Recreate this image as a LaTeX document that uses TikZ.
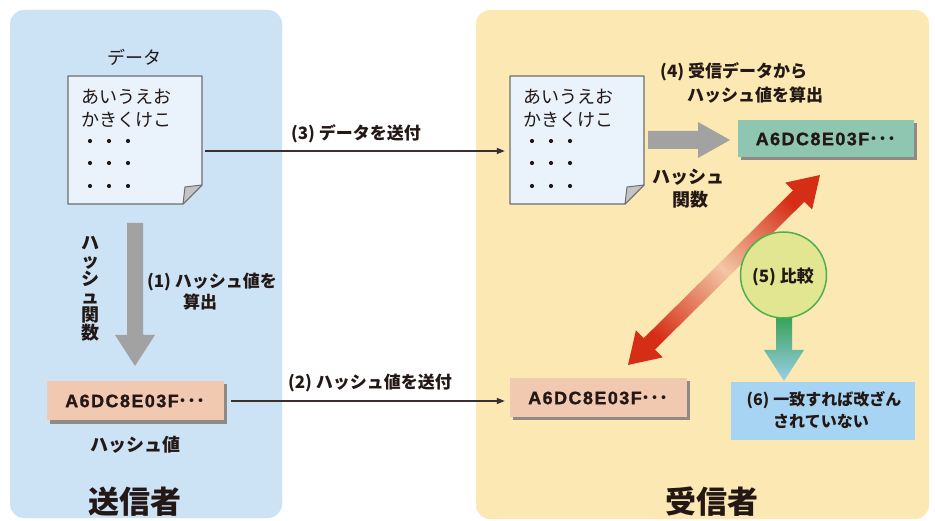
\documentclass[tikz,border=0pt]{standalone}
\usepackage{fontspec}
\setmainfont{Noto Sans CJK JP}
\newfontfamily\hexf{Liberation Sans}[LetterSpace=8, BoldFeatures={FakeBold=1.2}]
\usetikzlibrary{arrows.meta,shadows}
\definecolor{panelB}{HTML}{CCE3F6}
\definecolor{panelY}{HTML}{FCE8B3}
\definecolor{docfill}{HTML}{EAF3FC}
\definecolor{docline}{HTML}{6E6E6E}
\definecolor{foldc}{HTML}{C4C4C4}
\definecolor{pinkbox}{HTML}{F1C8B0}
\definecolor{greenbox}{HTML}{8EC6B2}
\definecolor{bluebox}{HTML}{A6D4F2}
\definecolor{arrowgray}{HTML}{A2A2A2}
\definecolor{txt}{HTML}{231815}
\definecolor{redA}{HTML}{D62E16}
\definecolor{peach}{HTML}{F2C6A4}
\definecolor{circfill}{HTML}{E2E690}
\definecolor{circline}{HTML}{4DB04E}
\definecolor{gA}{HTML}{2F9E4C}
\definecolor{bA}{HTML}{9CCFE8}
\definecolor{shadowc}{HTML}{8F8A86}
\newcommand\mydocpaper[2]{%
\begin{scope}[xshift=#2]
 \filldraw[fill=docfill, draw=docline, line width=1.2pt, line join=round] (68,76) -- (202,76) -- (202,185) -- (183,204) -- (68,204) -- cycle;
 \filldraw[fill=foldc, draw=docline, line width=1pt, line join=round] (202,185) -- (185,187) -- (183,204) -- cycle;
 \node[minimum width=134pt, minimum height=128pt, inner sep=0pt] (#1) at (135,140) {};
 \node[doctext] (#1a) at (81,97) {あいうえお};
 \node[doctext] (#1b) at (81,120) {かきくけこ};
 \foreach \yy in {141,163,186} {\foreach \xx in {90,109,128} {\fill[txt] (\xx,\yy) circle (2.1pt);}}
\end{scope}}
\begin{document}
\begin{tikzpicture}[x=1pt,y=-1pt,
  lbl/.style={font=\fontsize{17}{20}\selectfont\bfseries, text=txt, inner sep=0pt},
  big/.style={font=\fontsize{31}{34}\selectfont\bfseries, text=txt, inner sep=0pt},
  doctext/.style={font=\fontsize{18}{21}\selectfont, text=txt, inner sep=0pt, anchor=west},
  hexbox/.style={minimum width=177pt, minimum height=39pt, inner sep=0pt, text=txt,
     font=\fontsize{18}{21}\selectfont,
     drop shadow={shadow xshift=3pt, shadow yshift=-3pt, fill=shadowc, opacity=1, shadow scale=1}},
  conn/.style={draw=txt!90, line width=1.3pt, -{Triangle[length=8pt,width=6pt]}},
  bigarrow/.style={fill=arrowgray},
]
\useasboundingbox (0,0) rectangle (935,521);
\fill[white] (0,0) rectangle (935,521);
\fill[panelB, rounded corners=14pt] (10,10) rectangle (282,518);
\fill[panelY, rounded corners=14pt] (476,10) rectangle (929,519);

% documents
\node[font=\fontsize{18}{21}\selectfont, text=txt, inner sep=0pt] (datalbl) at (134,57) {データ};
\mydocpaper{docL}{0}
\mydocpaper{docR}{442}

% hash boxes
\node[hexbox, fill=pinkbox] (hashL) at (135.5,401) {{\hexf\bfseries A6DC8E03F}{\bfseries ･･･}};
\node[hexbox, fill=pinkbox] (hashR) at (598.5,398) {{\hexf\bfseries A6DC8E03F}{\bfseries ･･･}};
\node[hexbox, fill=greenbox, minimum width=176pt, minimum height=37pt] (hashG) at (826,139) {{\hexf\bfseries A6DC8E03F}{\bfseries ･･･}};

% thin connectors
\draw[conn] ([xshift=3pt,yshift=-11pt]docL.east) -- ([xshift=-5pt,yshift=-11pt]docR.west);
\node[lbl] (l3) at (356,134) {(3)\hspace{4pt}データを送付};
\draw[conn] ([xshift=7pt]hashL.east) -- ([xshift=-5pt]hashL.east -| hashR.west);
\node[lbl] (l2) at (370,383) {(2)\hspace{4pt}ハッシュ値を送付};

% left gray arrow
\fill[bigarrow] (127,223) -- (143,223) -- (143,335) -- (155,335) -- (135,366) -- (115,335) -- (127,335) -- cycle;
\node[lbl, align=center, font=\fontsize{18}{18}\selectfont\bfseries] (hfv) at (90,289) {ハ\\ッ\\シ\\ュ\\関\\数};
\node[lbl] (l1a) at (212,282) {(1)\hspace{4pt}ハッシュ値を};
\node[lbl] (l1b) at (200,302) {算出};
\node[lbl, font=\fontsize{18}{21}\selectfont\bfseries] (hvl) at (135,445) {ハッシュ値};
\node[big] (sender) at (135,502) {送信者};

% right gray arrow
\fill[bigarrow] (648,131) -- (698,131) -- (698,122) -- (730,140) -- (698,158) -- (698,149) -- (648,149) -- cycle;
\node[lbl, font=\fontsize{18}{21}\selectfont\bfseries] (hf1) at (688,177) {ハッシュ};
\node[lbl, font=\fontsize{18}{21}\selectfont\bfseries] (hf2) at (690,200) {関数};
\node[lbl, anchor=west] (l4a) at (660,72) {(4)\hspace{4pt}受信データから};
\node[lbl, anchor=west] (l4b) at (687,95) {ハッシュ値を算出};

% red double arrow
\shade[left color=redA, right color=redA, middle color=peach, shading angle=-45]
 (820,175) -- (812.1,209.6) -- (804.3,201.8) -- (654.9,349.6) -- (662.7,357.4) -- (628,365)
 -- (635.9,330.4) -- (643.7,338.2) -- (793.1,190.4) -- (785.3,182.6) -- cycle;

% compare
\shade[top color=gA, bottom color=bA] (776,312) -- (792,312) -- (792,350) -- (804,350) -- (784,381) -- (764,350) -- (776,350) -- cycle;
\node[circle, fill=circfill, draw=circline, line width=1.5pt, minimum size=86pt, inner sep=0pt] (cmp) at (783.5,275) {};
\node[lbl] (l5) at (783,277) {(5)\hspace{4pt}比較};
\node[fill=bluebox, minimum width=184pt, minimum height=58pt, inner sep=0pt] (res) at (823,411) {};
\node[lbl, font=\fontsize{16}{19}\selectfont\bfseries] (l6a) at (824,400) {(6)\hspace{4pt}一致すれば改ざん};
\node[lbl, font=\fontsize{16}{19}\selectfont\bfseries] (l6b) at (821,421) {されていない};
\node[big] (receiver) at (712,502) {受信者};
\end{tikzpicture}
\end{document}
